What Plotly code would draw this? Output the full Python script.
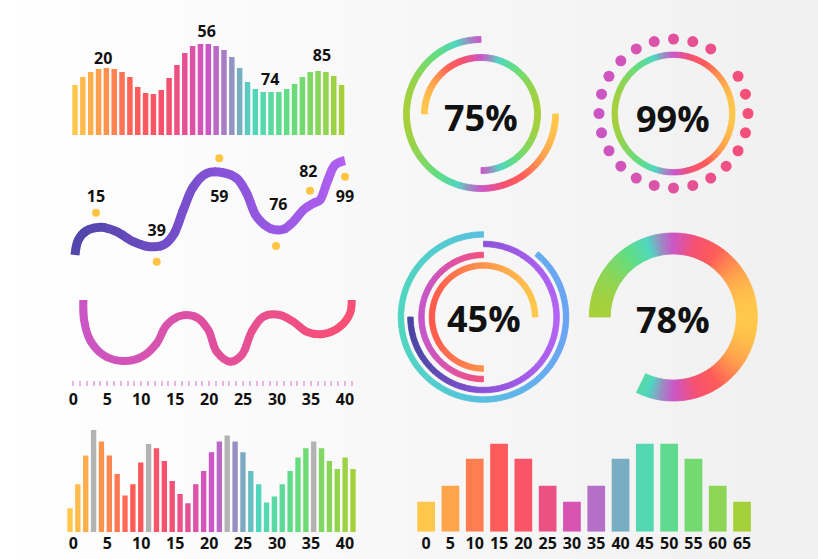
import numpy as np
import plotly.graph_objects as go

W, H = 818, 559
FONT = "Open Sans"

# ---------------- data ----------------
wave_heights = [50, 58, 63, 66, 67, 66, 63, 58, 48, 42, 41, 45, 57, 70, 82, 89, 91, 91,
                89, 85, 78, 67, 53, 46, 43, 43, 43, 46, 51, 58, 63, 64, 63, 59, 50]
wave_labels = ["20", "56", "74", "85"]
wave_label_pos = [3.6, 16.8, 24.9, 31.5]
wave_label_lvl = [75.5, 102.5, 54.5, 78]

trend_x = [5, 8.3, 16.7, 31.7, 46.7, 63.3, 80, 93.3, 103.3, 113.3, 123.3, 136.7, 153.3,
           166.7, 176.7, 186.7, 200, 213.3, 223.3, 233.3, 243.3, 250, 256.7, 265, 275]
trend_y = [15, 30, 39.3, 42.7, 38.3, 28.3, 23.3, 25, 35, 60, 83.3, 96.7, 97.3,
           91.7, 76.7, 53.3, 41.7, 40.7, 48.3, 60, 66.7, 70, 86.7, 105, 109.3]
trend_labels = ["15", "39", "59", "76", "82", "99"]
trend_dot_x = [26, 86.7, 149.3, 206, 240, 275]
trend_dot_y = [57.3, 8.3, 111.7, 24, 79.3, 93.3]
trend_label_x = [26, 86.7, 149.3, 208.3, 238.3, 275]
trend_label_y = [72.5, 38.2, 72.5, 64.2, 97.5, 72.5]

pink_x = [1.47, 1.58, 2.46, 4.42, 7.36, 10.31, 12.28, 13.76, 15.71, 18.17, 19.88, 21.12,
          23.08, 24.8, 26.27, 27.98, 30.44, 32.4, 34.37, 36.82, 39.28, 40.75, 41.0]
pink_y = [86, 66, 46, 31, 25, 30, 42.7, 61, 70, 68.7, 56, 34.3,
          24.3, 31, 54.3, 69.3, 71, 64.3, 54.3, 52, 59.3, 72.7, 86]
axis_ticks = [0, 5, 10, 15, 20, 25, 30, 35, 40]

col_values = [24, 48, 76.7, 102.3, 90.7, 76.7, 58.3, 36.7, 48, 69.7, 88.3, 84, 71.3, 51.3,
              38.3, 29, 48, 61.3, 80, 90.7, 96.7, 90.7, 80, 61.3, 48, 29.7, 35.7, 48, 61.3,
              74.7, 84, 90.7, 84, 71.3, 63.3, 74.7, 63.3]
col_gray = [3, 10, 20, 31]

cat_labels = ["0", "5", "10", "15", "20", "25", "30", "35", "40", "45", "50", "55", "60", "65"]
cat_values = [30, 46, 73, 88, 73, 46, 30, 46, 73, 88, 88, 73, 46, 30]

ring_texts = ["75%", "99%", "45%", "78%"]

# ---------------- colours ----------------
PAL = [(0.00, '#ffc84a'), (0.10, '#ff9a4c'), (0.22, '#ff5c58'), (0.35, '#f6506f'),
       (0.50, '#cc55c8'), (0.58, '#9a8cc4'), (0.66, '#4fd6c0'), (0.80, '#62dd80'),
       (1.00, '#a6d03a')]
PAL_REV = [(1 - p, c) for p, c in reversed(PAL)]


def h2r(h):
    h = h.lstrip('#')
    return [int(h[i:i + 2], 16) for i in (0, 2, 4)]


def interp(stops, t):
    t = min(1, max(0, t))
    for (p0, c0), (p1, c1) in zip(stops[:-1], stops[1:]):
        if t <= p1:
            f = 0 if p1 == p0 else (t - p0) / (p1 - p0)
            a, b = h2r(c0), h2r(c1)
            return 'rgb(%d,%d,%d)' % tuple(round(a[i] + (b[i] - a[i]) * f) for i in range(3))
    return 'rgb(%d,%d,%d)' % tuple(h2r(stops[-1][1]))


# ---------------- layout helpers ----------------
layout = dict(width=W, height=H, margin=dict(l=0, r=0, t=0, b=0),
              paper_bgcolor='#ffffff', plot_bgcolor='rgba(0,0,0,0)',
              showlegend=False, shapes=[], annotations=[])
traces = []
cnt = {'x': 0, 'y': 0}


def dx(a, b):
    return [max(0, a / W), min(1, b / W)]


def dy(top, bot):
    return [max(0, 1 - bot / H), min(1, 1 - top / H)]


def new_axis(kind, **kw):
    cnt[kind] += 1
    n = cnt[kind]
    key = kind + 'axis' + ('' if n == 1 else str(n))
    ref = kind + ('' if n == 1 else str(n))
    base = dict(visible=False, fixedrange=True, showgrid=False, zeroline=False)
    base.update(kw)
    layout[key] = base
    return ref


TICKFONT = dict(family=FONT, size=16, color='#111111', weight=700)

# background gradient
NS = 40
for i in range(NS):
    f = (i + 0.5) / NS
    v = round(255 - 15 * f)
    layout['shapes'].append(dict(type='rect', xref='paper', yref='paper',
                                 x0=i / NS, x1=min(1, (i + 1) / NS + 0.002), y0=0, y1=1,
                                 fillcolor='rgb(%d,%d,%d)' % (v, v, v),
                                 line=dict(width=0), layer='below'))

# ---------------- panel 1: wavy bars ----------------
y1 = new_axis('y', domain=dy(10, 135), range=[0, 125])
x1 = new_axis('x', domain=dx(71.1, 345.5), range=[-0.5, 34.5], anchor=y1)
layout['yaxis']['anchor'] = x1
n1 = len(wave_heights)
traces.append(go.Bar(x=list(range(n1)), y=wave_heights, width=0.7, xaxis=x1, yaxis=y1,
                     marker=dict(color=[interp(PAL, i / (n1 - 1)) for i in range(n1)],
                                 line=dict(width=0)), hoverinfo='skip'))
traces.append(go.Scatter(x=wave_label_pos, y=wave_label_lvl, text=wave_labels, mode='text',
                         textfont=TICKFONT, xaxis=x1, yaxis=y1, cliponaxis=False,
                         hoverinfo='skip'))


def gradient_line(xs, ys, yref, px0, px1, r0, r1, stops, width, n=16):
    for k in range(n):
        a = px0 + (px1 - px0) * k / n - 0.7
        b = px0 + (px1 - px0) * (k + 1) / n + 0.7
        ra = r0 + (a - px0) * (r1 - r0) / (px1 - px0)
        rb = r0 + (b - px0) * (r1 - r0) / (px1 - px0)
        xr = new_axis('x', domain=dx(a, b), range=[ra, rb], anchor=yref)
        traces.append(go.Scatter(x=xs, y=ys, xaxis=xr, yaxis=yref, mode='lines',
                                 line=dict(color=interp(stops, (k + 0.5) / n), width=width,
                                           shape='spline', smoothing=1),
                                 hoverinfo='skip'))


# ---------------- panel 2: purple trend line ----------------
y2 = new_axis('y', domain=dy(150, 270), range=[0, 120])
x2 = new_axis('x', domain=dx(70, 360), range=[0, 290], anchor=y2)
layout['yaxis2']['anchor'] = x2
gradient_line(trend_x, trend_y, y2, 70, 360, 0, 290,
              [(0, '#4f44a8'), (0.5, '#8452d6'), (1, '#b562f5')], 9, n=16)
traces.append(go.Scatter(x=trend_dot_x, y=trend_dot_y, mode='markers', xaxis=x2, yaxis=y2,
                         marker=dict(size=8, color='#ffc542'), cliponaxis=False,
                         hoverinfo='skip'))
traces.append(go.Scatter(x=trend_label_x, y=trend_label_y, text=trend_labels, mode='text',
                         textfont=TICKFONT, xaxis=x2, yaxis=y2, cliponaxis=False,
                         hoverinfo='skip'))

# ---------------- panel 3: pink wave + tick axis ----------------
y3 = new_axis('y', domain=dy(290, 386), range=[0, 96])
x3 = new_axis('x', domain=dx(70, 356), range=[-0.486, 41.63], anchor=y3, visible=True,
              showline=False, tickmode='array', tickvals=axis_ticks,
              ticktext=[str(t) for t in axis_ticks], ticks='inside', ticklen=5,
              tickwidth=1.5, tickcolor='#e8b4e0', tickfont=TICKFONT, ticklabelstandoff=2,
              minor=dict(ticks='inside', dtick=1, tick0=0, ticklen=5, tickwidth=1.5,
                         tickcolor='#e8b4e0'))
layout['yaxis3']['anchor'] = x3
traces.append(go.Scatter(x=[], y=[], xaxis=x3, yaxis=y3, hoverinfo='skip'))
gradient_line(pink_x, pink_y, y3, 70, 356, -0.486, 41.63,
              [(0, '#c956c8'), (0.5, '#e0509e'), (1, '#fa4f72')], 8, n=16)

# ---------------- panel 4: column bars ----------------
y4 = new_axis('y', domain=dy(425, 532.3), range=[0, 107.3])
x4 = new_axis('x', domain=dx(66.07, 356.93), range=[-0.5, 36.5], anchor=y4)
layout['yaxis4']['anchor'] = x4
n4 = len(col_values)
c4 = ['#b3b3b3' if i in col_gray else interp(PAL, i / (n4 - 1)) for i in range(n4)]
traces.append(go.Bar(x=list(range(n4)), y=col_values, width=0.68, xaxis=x4, yaxis=y4,
                     marker=dict(color=c4, line=dict(width=0)), hoverinfo='skip'))
x4b = new_axis('x', domain=dx(70, 356), range=[-0.486, 41.63], anchor=y4, visible=True,
               showline=False, tickmode='array', tickvals=axis_ticks,
               ticktext=[str(t) for t in axis_ticks], ticks='', tickfont=TICKFONT)
traces.append(go.Scatter(x=[], y=[], xaxis=x4b, yaxis=y4, hoverinfo='skip'))

# ---------------- panel 5: category bars ----------------
y5 = new_axis('y', domain=dy(440, 531.7), range=[0, 91.7])
x5 = new_axis('x', domain=dx(414, 754.2), range=[-0.5, 13.5], anchor=y5, visible=True,
              type='category', showline=False, ticks='', tickfont=TICKFONT)
layout['yaxis5']['anchor'] = x5
n5 = len(cat_values)
traces.append(go.Bar(x=cat_labels, y=cat_values, width=0.73, xaxis=x5, yaxis=y5,
                     marker=dict(color=[interp(PAL, i / (n5 - 1)) for i in range(n5)],
                                 line=dict(width=0)), hoverinfo='skip'))

# ---------------- rings ----------------
rings = [  # name, cx, cy, R, text centre x, text centre y
    ('polar', 481, 114, 80, 481, 117),
    ('polar2', 673.5, 113.5, 82, 672.7, 118),
    ('polar3', 483.5, 317, 88, 484.3, 318.5),
    ('polar4', 673.3, 317, 86, 673.3, 319.5),
]
for name, cx, cy, R, tx, ty in rings:
    layout[name] = dict(domain=dict(x=dx(cx - R, cx + R), y=dy(cy - R, cy + R)),
                        bgcolor='rgba(0,0,0,0)', barmode='overlay', bargap=0,
                        radialaxis=dict(visible=False, range=[0, R]),
                        angularaxis=dict(visible=False, rotation=90, direction='clockwise'))


def arc(subplot, r_in, r_out, th0, th1, stops, step=2.0):
    n = max(1, int(round((th1 - th0) / step)))
    w = (th1 - th0) / n
    th = th0 + w * (np.arange(n) + 0.5)
    cols = [interp(stops, (np.sin(np.radians(t)) + 1) / 2) for t in th]
    traces.append(go.Barpolar(r=[r_out - r_in] * n, base=[r_in] * n, theta=th, width=[w] * n,
                              marker=dict(color=cols, line=dict(color=cols, width=0.8)),
                              subplot=subplot, hoverinfo='skip'))


# 75%
arc('polar', 71.5, 77.5, 90, 360, PAL_REV)
arc('polar', 53.5, 59.5, 270, 540, PAL)
# 99%
arc('polar2', 56, 61.5, 0, 360, PAL_REV)
dot_th = [t for t in range(0, 360, 15) if t != 45]
traces.append(go.Scatterpolar(r=[74.5] * len(dot_th), theta=dot_th, mode='markers',
                              subplot='polar2', hoverinfo='skip',
                              marker=dict(size=11, color=[interp([(0, '#cb55c5'), (1, '#f64f78')],
                                                                 (np.sin(np.radians(t)) + 1) / 2)
                                                          for t in dot_th])))
# 45%
arc('polar3', 79.8, 85.3, 40, 360, [(0, '#4fd6c0'), (0.5, '#57bfe0'), (1, '#6aa4f4')])
arc('polar3', 70.3, 75.8, 0, 270, [(0, '#4a44a2'), (0.5, '#8a52d8'), (1, '#b262f4')])
arc('polar3', 59.3, 64.8, 180, 360, [(0, '#c655ca'), (0.5, '#f44f7c'), (1, '#f44f7c')])
arc('polar3', 48.8, 54.3, 180, 450, [(0, '#ff5a4c'), (0.5, '#ff934a'), (1, '#ffc84a')])
# 78%
arc('polar4', 63, 84, 270, 566, PAL_REV)

for (name, cx, cy, R, tx, ty), txt in zip(rings, ring_texts):
    layout['annotations'].append(dict(text=txt, xref='paper', yref='paper', x=tx / W,
                                      y=1 - ty / H, xanchor='center', yanchor='middle',
                                      showarrow=False,
                                      font=dict(family=FONT, size=36, color='#111111',
                                                weight=700)))

fig = go.Figure(data=traces, layout=layout)
fig.write_html("out.html")
